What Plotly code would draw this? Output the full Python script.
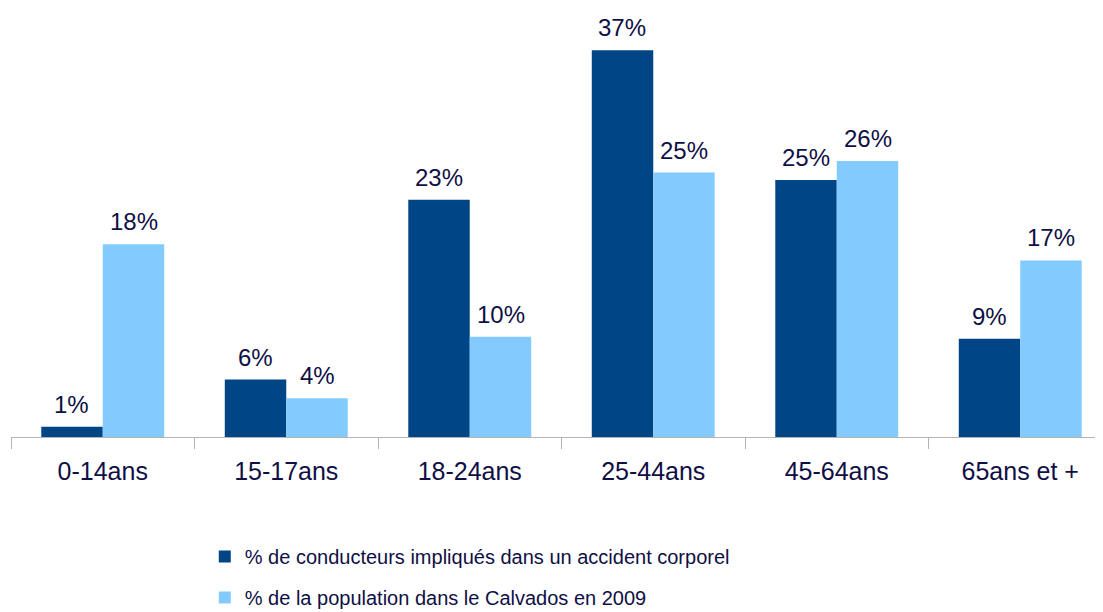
import plotly.graph_objects as go

categories = ["0-14ans", "15-17ans", "18-24ans", "25-44ans", "45-64ans", "65ans et +"]
conducteurs = [0.98, 5.5, 22.7, 37.0, 24.6, 9.4]
population = [18.45, 3.7, 9.6, 25.3, 26.4, 16.9]
name_cond = "% de conducteurs impliqués dans un accident corporel"
name_pop = "% de la population dans le Calvados en 2009"

DARK = "#004586"
LIGHT = "#83caff"
TXT = "#0f0f45"
FONT = "Liberation Sans, Arial, sans-serif"

fig = go.Figure()
fig.add_trace(go.Bar(x=categories, y=conducteurs, name=name_cond, marker_color=DARK,
                     marker_line_width=0, legendgroup="a"))
fig.add_trace(go.Bar(x=categories, y=population, name=name_pop, marker_color=LIGHT,
                     marker_line_width=0, legendgroup="b"))

for vals, shift in ((conducteurs, -31), (population, 31)):
    for c, v in zip(categories, vals):
        fig.add_annotation(x=c, y=v, text=f"{v:.0f}%", showarrow=False, xshift=shift,
                           yshift=7, yanchor="bottom",
                           font=dict(family=FONT, size=24, color=TXT))

fig.update_layout(
    width=1104, height=604,
    margin=dict(l=3, r=0, t=11, b=175, autoexpand=False),
    paper_bgcolor="white", plot_bgcolor="white",
    barmode="group", bargap=0.33, bargroupgap=0,
    font=dict(family=FONT, size=24, color=TXT),
    showlegend=True,
    legend=dict(orientation="v", x=0.176, xanchor="left", y=-0.239, yanchor="top",
                font=dict(family=FONT, size=20, color=TXT), tracegroupgap=12,
                itemsizing="constant", traceorder="grouped"),
    xaxis=dict(type="category", tickson="boundaries", ticks="outside", ticklen=11,
               tickcolor="#b3b3b3", showline=True, linecolor="#b3b3b3", linewidth=1,
               showgrid=False, tickfont=dict(family=FONT, size=25, color=TXT),
               ticklabelstandoff=12, automargin=False, range=[-0.5, 5.5]),
    yaxis=dict(range=[0, 40], visible=False, showgrid=False, zeroline=False,
               automargin=False),
)

fig.write_html("out.html")
